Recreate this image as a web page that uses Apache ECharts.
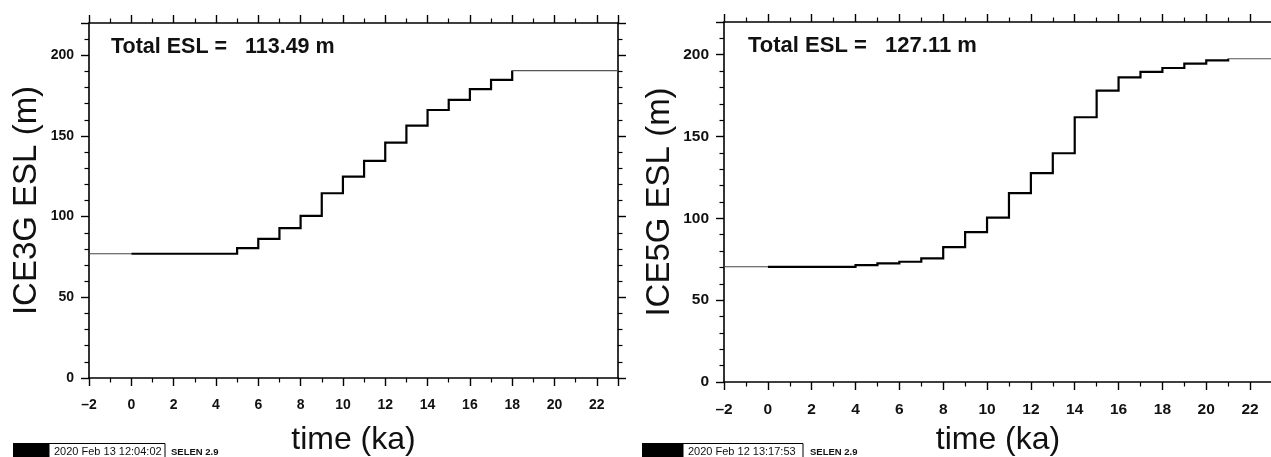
<!DOCTYPE html>
<html>
<head>
<meta charset="utf-8">
<script src="https://cdn.jsdelivr.net/npm/echarts@6/dist/echarts.min.js"></script>
<style>
html,body{margin:0;padding:0;background:#fff;}
#chart{width:1271px;height:457px;}
</style>
</head>
<body>
<div id="chart"></div>
<script>
// ---- data ----
const ice3gTimes = [0, 5, 6, 7, 8, 9, 10, 11, 12, 13, 14, 15, 16, 17, 18];
const ice3gEsl   = [77, 80.5, 86.2, 92.9, 100.5, 114.5, 124.8, 134.5, 145.9, 156.4, 166.1, 172.3, 179, 184.7, 190.5];
const ice5gTimes = [0, 4, 5, 6, 7, 8, 9, 10, 11, 12, 13, 14, 15, 16, 17, 18, 19, 20, 21];
const ice5gEsl   = [70.4, 71.4, 72.5, 73.5, 75.5, 82.4, 91.6, 100.4, 115.4, 127.6, 139.8, 161.8, 178.1, 186.2, 189.5, 191.9, 194.6, 196.6, 197.5];
const totals     = ['113.49', '127.11'];
const yNames     = ['ICE3G ESL (m)', 'ICE5G ESL (m)'];
const xName      = 'time (ka)';
const stamps     = ['2020 Feb 13 12:04:02', '2020 Feb 12 13:17:53'];
const progName   = 'SELEN 2.9';
const xMin = -2, xMax = 23, xStep = 2;
const yMin = 0, yMax = 220, yStep = 50;

const FONT = '"Liberation Sans", Arial, Helvetica, sans-serif';

function pairs(ts, vs) { return ts.map((t, i) => [t, vs[i]]); }

const chart = echarts.init(document.getElementById('chart'), null, {renderer: 'canvas'});

const grids = [
  {left: 89, top: 23, width: 529, height: 355, outerBoundsMode: 'none', containLabel: false},
  {left: 724, top: 22, width: 548, height: 360, outerBoundsMode: 'none', containLabel: false}
];
const labelSizes = [14, 15.5];
const yNameGaps = [46, 48];
const xNameGaps = [46, 42];

const axisLine = {show: true, onZero: false, lineStyle: {color: '#000', width: 1.6}};
const tick = {show: true, length: 8, lineStyle: {color: '#000', width: 1.4}};
const minor = n => ({show: true, splitNumber: n, length: 4.5, lineStyle: {color: '#000', width: 1.2}});
const fmt = v => (v < 0 ? '\u2013' + Math.abs(v) : String(v));

const xAxis = [], yAxis = [], series = [];
[0, 1].forEach(g => {
  const lab = {
    show: true, fontSize: labelSizes[g], fontWeight: 'bold', color: '#111', fontFamily: FONT,
    showMaxLabel: false, formatter: fmt
  };
  xAxis.push({
    type: 'value', gridIndex: g, position: 'bottom', min: xMin, max: xMax, interval: xStep,
    axisLine, axisTick: tick, minorTick: minor(2), splitLine: {show: false},
    axisLabel: Object.assign({}, lab, {margin: 20}),
    name: xName, nameLocation: 'middle', nameGap: xNameGaps[g],
    nameTextStyle: {fontSize: 32, color: '#111', fontFamily: FONT}
  });
  xAxis.push({
    type: 'value', gridIndex: g, position: 'top', min: xMin, max: xMax, interval: xStep,
    axisLine, axisTick: tick, minorTick: minor(2), splitLine: {show: false}, axisLabel: {show: false}
  });
  yAxis.push({
    type: 'value', gridIndex: g, position: 'left', min: yMin, max: yMax, interval: yStep,
    axisLine, axisTick: tick, minorTick: minor(5), splitLine: {show: false},
    axisLabel: Object.assign({}, lab, {margin: 15}),
    name: yNames[g], nameLocation: 'middle', nameGap: yNameGaps[g], nameRotate: 90,
    nameTextStyle: {fontSize: 33, color: '#111', fontFamily: FONT}
  });
  yAxis.push({
    type: 'value', gridIndex: g, position: 'right', min: yMin, max: yMax, interval: yStep,
    axisLine, axisTick: tick, minorTick: minor(5), splitLine: {show: false}, axisLabel: {show: false}
  });
});

const sets = [[ice3gTimes, ice3gEsl], [ice5gTimes, ice5gEsl]];
sets.forEach(([ts, vs], g) => {
  const n = ts.length - 1;
  const common = {xAxisIndex: g * 2, yAxisIndex: g * 2, silent: true, animation: false};
  series.push(Object.assign({type: 'line', symbol: 'none'}, common, {
    data: [[xMin, vs[0]], [ts[0], vs[0]]],
    lineStyle: {color: '#444', width: 1.1}
  }));
  series.push(Object.assign({type: 'line', symbol: 'none'}, common, {
    data: [[ts[n], vs[n]], [xMax, vs[n]]],
    lineStyle: {color: '#555', width: 1.1}
  }));
  // staircase: each value holds from its time to the next time
  const data = pairs(ts, vs);
  series.push(Object.assign({type: 'custom'}, common, {
    data: data,
    encode: {x: 0, y: 1},
    renderItem: function (params, api) {
      if (params.dataIndex !== 0) return null;
      const pts = [];
      for (let i = 0; i < data.length; i++) {
        if (i > 0) pts.push(api.coord([data[i][0], data[i - 1][1]]));
        pts.push(api.coord(data[i]));
      }
      return {
        type: 'polyline',
        shape: {points: pts},
        style: {stroke: '#000', lineWidth: 2.2, fill: null, lineJoin: 'miter'}
      };
    }
  }));
});

const graphic = [];
const annot = [
  {x: 111, y: 48, size: 21.5},
  {x: 748, y: 46.5, size: 22}
];
const foot = [
  {blackX: 13, blackW: 36, boxW: 116, selX: 171},
  {blackX: 642, blackW: 41, boxW: 120, selX: 810}
];
[0, 1].forEach(g => {
  graphic.push({
    type: 'text', left: annot[g].x, top: annot[g].y - 12,
    style: {text: 'Total ESL =   ' + totals[g] + ' m', font: 'bold ' + annot[g].size + 'px ' + FONT, fill: '#111'}
  });
  const f = foot[g];
  graphic.push({type: 'rect', shape: {x: f.blackX, y: 443, width: f.blackW, height: 16}, style: {fill: '#000'}});
  graphic.push({type: 'rect', shape: {x: f.blackX + f.blackW, y: 443.5, width: f.boxW, height: 16}, style: {fill: '#fff', stroke: '#000', lineWidth: 1}});
  graphic.push({
    type: 'text', x: f.blackX + f.blackW + 5, y: 446,
    style: {text: stamps[g], font: '11px ' + FONT, fill: '#111'}
  });
  graphic.push({
    type: 'text', x: f.selX, y: 447,
    style: {text: progName, font: 'bold 9.5px ' + FONT, fill: '#111'}
  });
});

chart.setOption({
  animation: false,
  backgroundColor: '#fff',
  grid: grids,
  xAxis, yAxis, series, graphic
});
</script>
</body>
</html>
